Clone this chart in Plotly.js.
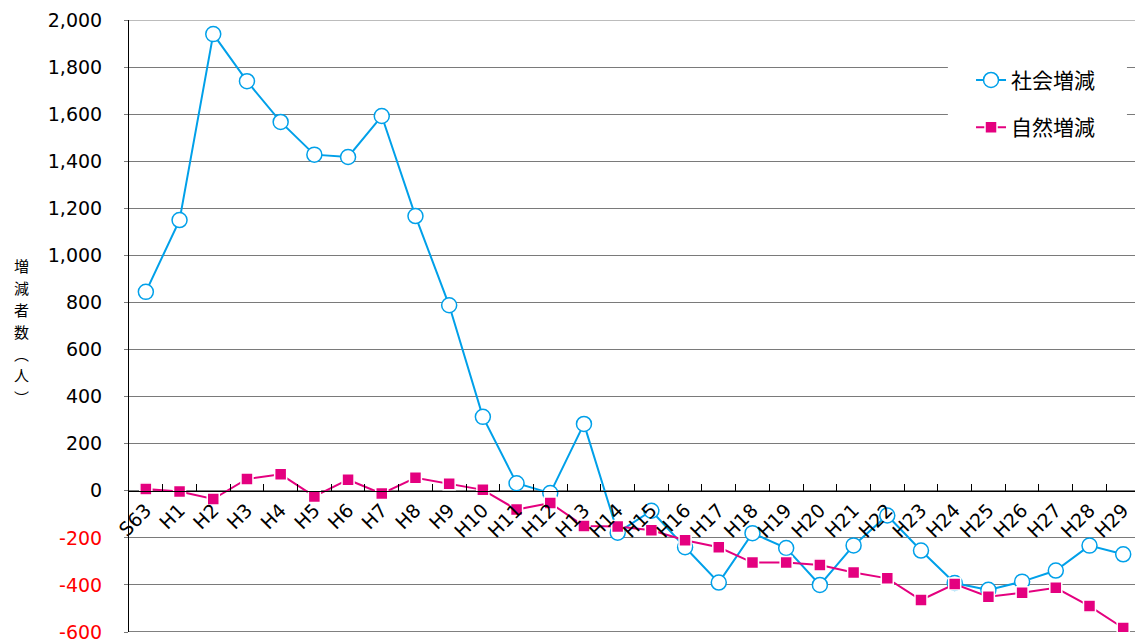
<!DOCTYPE html>
<html>
<head>
<meta charset="utf-8">
<script src="https://cdn.plot.ly/plotly-3.0.1.min.js"></script>
<style>html,body{margin:0;padding:0;background:#fff;}#chart{width:1135px;height:642px;}</style>
</head>
<body>
<div id="chart"></div>
<script>
// ---- data ----
const categories = ["S63","H1","H2","H3","H4","H5","H6","H7","H8","H9","H10","H11","H12","H13","H14","H15","H16","H17","H18","H19","H20","H21","H22","H23","H24","H25","H26","H27","H28","H29"];
const socialChange = [845,1150,1940,1740,1567,1428,1418,1592,1167,788,314,32,-10,284,-178,-85,-240,-390,-180,-243,-400,-232,-105,-254,-392,-421,-386,-339,-233,-270];
const naturalChange = [8,-3,-35,50,70,-24,47,-12,55,30,4,-80,-52,-150,-152,-168,-210,-240,-305,-305,-315,-347,-372,-464,-396,-450,-433,-412,-490,-583];
const seriesNames = ["社会増減","自然増減"];
const yTickValues = [-600,-400,-200,0,200,400,600,800,1000,1200,1400,1600,1800,2000];
const yTickLabels = ["-600","-400","-200","0","200","400","600","800","1,000","1,200","1,400","1,600","1,800","2,000"];
const yTitleChars = ["増","減","者","数","︵","人","︶"];

// ---- styles ----
const BLUE = "#00A0E9";
const PINK = "#E4007F";
const tickText = yTickLabels.map((t, i) => yTickValues[i] < 0 ? '<span style="color:#FF0000">' + t + '</span>' : t);

const traces = [
  {
    x: categories, y: socialChange, name: seriesNames[0], type: "scatter", mode: "lines+markers",
    legendgroup: "a",
    line: {color: BLUE, width: 2},
    marker: {symbol: "circle", size: 15, color: "#FFFFFF", line: {color: BLUE, width: 1.5}}
  },
  {
    x: categories, y: naturalChange, name: seriesNames[1], type: "scatter", mode: "lines+markers",
    legendgroup: "b",
    line: {color: PINK, width: 2},
    marker: {symbol: "square", size: 12, color: PINK, line: {color: "#FFFFFF", width: 1.5}}
  }
];

const plotTop = 20, plotBottom = 632, plotLeft = 129, plotW = 1006, plotH = plotBottom - plotTop;
const yRange = [-600, 2000];
const titleFont = 15, titleStep = 22, titleCenter = 331;

const titleAnnotations = yTitleChars.map((c, i) => ({
  text: c, xref: "paper", yref: "paper",
  x: (21 - plotLeft) / plotW,
  y: (plotBottom - (titleCenter + (i - (yTitleChars.length - 1) / 2) * titleStep)) / plotH,
  xanchor: "center", yanchor: "middle", showarrow: false,
  font: {family: "Noto Sans CJK JP", size: titleFont, color: "#000"}
}));

const layout = {
  width: 1135, height: 642,
  margin: {l: 129, r: 0, t: 20, b: 10, pad: 0},
  paper_bgcolor: "#FFFFFF", plot_bgcolor: "#FFFFFF",
  showlegend: true,
  legend: {
    x: 0.837, y: 0.935, xanchor: "left", yanchor: "top",
    bgcolor: "rgba(0,0,0,0)", borderwidth: 0,
    font: {family: "Noto Sans CJK JP", size: 21, color: "#000"},
    tracegroupgap: 17
  },
  xaxis: {
    type: "category", range: [-0.5, 29.35],
    anchor: "free", position: (0 - yRange[0]) / (yRange[1] - yRange[0]),
    showline: true, linecolor: "#000", linewidth: 1,
    ticks: "inside", ticklen: 7, tickcolor: "#000", tickwidth: 1,
    tickson: "boundaries", tickangle: -45,
    tickfont: {family: "DejaVu Sans", size: 19, color: "#000"},
    showgrid: false, zeroline: false, fixedrange: true
  },
  yaxis: {
    range: yRange,
    tickmode: "array", tickvals: yTickValues, ticktext: tickText,
    showgrid: true, gridcolor: "#7a7a7a", gridwidth: 1,
    showline: true, linecolor: "#000", linewidth: 1,
    ticks: "outside", ticklen: 4, tickcolor: "#7a7a7a",
    ticklabelstandoff: 18, ticklabeloverflow: "allow",
    tickfont: {family: "DejaVu Sans", size: 19, color: "#000"},
    zeroline: false, fixedrange: true
  },
  shapes: [
    {type: "rect", xref: "paper", yref: "paper", layer: "above",
     x0: 0.814, x1: 0.992, y0: 0.788, y1: 0.955,
     fillcolor: "#FFFFFF", line: {width: 0}},
    {type: "line", xref: "paper", yref: "y", layer: "below",
     x0: 0, x1: 1, y0: yRange[1], y1: yRange[1], line: {color: "#7a7a7a", width: 1}},
    {type: "line", xref: "paper", yref: "y", layer: "below",
     x0: 0, x1: 1, y0: yRange[0], y1: yRange[0], line: {color: "#000", width: 1}}
  ],
  annotations: titleAnnotations
};

Plotly.newPlot("chart", traces, layout, {displayModeBar: false, staticPlot: true});
</script>
</body>
</html>
